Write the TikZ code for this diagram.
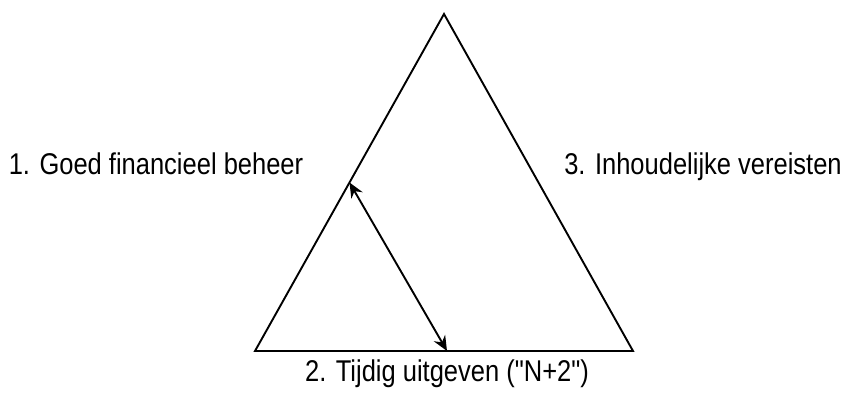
\documentclass[tikz,border=0pt]{standalone}
\usepackage{fontspec}
\newfontfamily\lblfont[FakeStretch=0.85]{Liberation Sans}
\usetikzlibrary{arrows.meta,calc}
\begin{document}
\begin{tikzpicture}[x=1pt,y=-1pt,
  edge/.style={line width=1.9pt},
  lbl/.style={font=\lblfont\fontsize{30}{36}\selectfont, inner sep=0pt, anchor=base},
  dbl/.style={line width=1.9pt, {Stealth[length=15pt,width=13pt,inset=5pt]}-{Stealth[length=15pt,width=13pt,inset=5pt]}}]
\useasboundingbox (0,0) rectangle (849,396);
\coordinate (A) at (444,14);
\coordinate (B) at (255,351);
\coordinate (C) at (633,351);
\draw[edge, line join=miter] (A) -- (B) -- (C) -- cycle;
\coordinate (P) at ($(A)!0.5!(B)$);
\coordinate (Q) at (447,351);
\draw[dbl] (P) -- (Q);
\node[lbl] (l1) at (156,174) {1. Goed financieel beheer};
\node[lbl] (l3) at (703,174) {3. Inhoudelijke vereisten};
\node[lbl] (l2) at (447,381) {2. Tijdig uitgeven ("N+2")};
\end{tikzpicture}
\end{document}
